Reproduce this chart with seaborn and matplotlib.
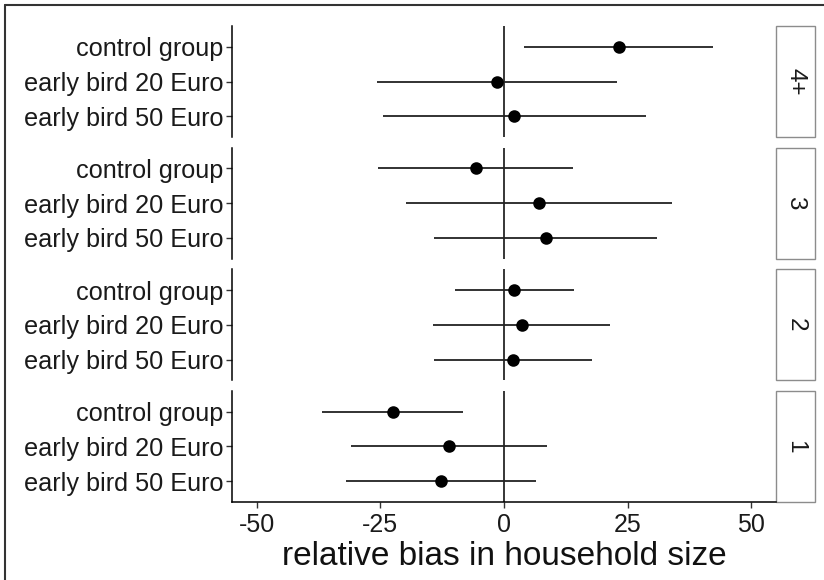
import matplotlib
matplotlib.use("Agg")
import matplotlib.pyplot as plt
import seaborn as sns
import numpy as np
import pandas as pd
from matplotlib.patches import Rectangle
from matplotlib.lines import Line2D

# data
groups = ["control group", "early bird 20 Euro", "early bird 50 Euro"]
facets = ["4+", "3", "2", "1"]
est = [[23.2, -1.4, 2.1],
       [-5.6, 7.1, 8.4],
       [2.1, 3.7, 1.9],
       [-22.4, -11.1, -12.8]]
lower = [[4.1, -25.6, -24.4],
         [-25.4, -19.8, -14.2],
         [-10.0, -14.3, -14.2],
         [-36.8, -30.9, -31.9]]
upper = [[42.3, 22.9, 28.7],
         [14.0, 34.0, 31.0],
         [14.2, 21.5, 17.7],
         [-8.2, 8.7, 6.5]]

rows = []
for i, f in enumerate(facets):
    for j, g in enumerate(groups):
        rows.append(dict(size=f, group=g, est=est[i][j], lo=lower[i][j], hi=upper[i][j]))
df = pd.DataFrame(rows)

sns.set_style("white")
plt.rcParams["font.family"] = ["Liberation Sans", "DejaVu Sans"]
plt.rcParams["axes.unicode_minus"] = False

W, H = 824, 580
fig, axes = plt.subplots(4, 1, figsize=(W / 100, H / 100), dpi=100, sharex=True)
plt.subplots_adjust(left=232 / W, right=776 / W, top=1 - 26 / H, bottom=1 - 502 / H, hspace=0.096)

strip_w = 39 / 544
for ax, f in zip(axes, facets):
    sub = df[df["size"] == f]
    ax.axvline(0, color="black", lw=1.1, zorder=1)
    ax.hlines(y=[groups.index(g) for g in sub["group"]], xmin=sub["lo"], xmax=sub["hi"],
              color="#222222", lw=1.3, zorder=2)
    sns.pointplot(data=sub, x="est", y="group", order=groups, orient="h", ax=ax,
                  linestyle="none", color="black", markersize=7, errorbar=None, zorder=3)
    ax.set_ylim(2.6, -0.6)
    ax.set_xlim(-55, 55)
    ax.set_xlabel("")
    ax.set_ylabel("")
    for s in ["top", "right", "bottom"]:
        ax.spines[s].set_visible(False)
    ax.spines["left"].set_color("black")
    ax.spines["left"].set_linewidth(1.1)
    ax.tick_params(axis="y", left=True, length=4, width=1, color="#333333", labelsize=18.2,
                   labelcolor="#1a1a1a", pad=2)
    ax.tick_params(axis="x", bottom=False, labelbottom=False)
    # strip on the right
    ax.add_patch(Rectangle((1.0, 0.0), strip_w, 1.0, transform=ax.transAxes, clip_on=False,
                           facecolor="white", edgecolor="#8c8c8c", lw=1.0))
    ax.text(1.0 + strip_w / 2, 0.5, f, transform=ax.transAxes, rotation=-90,
            ha="center", va="center", fontsize=17.5, color="#1a1a1a")

bax = axes[-1]
bax.spines["bottom"].set_visible(True)
bax.spines["bottom"].set_color("black")
bax.spines["bottom"].set_linewidth(1.1)
bax.set_xticks([-50, -25, 0, 25, 50])
bax.tick_params(axis="x", bottom=True, labelbottom=True, length=4, width=1, color="#333333",
                labelsize=18, labelcolor="#1a1a1a", pad=4)
bax.set_xlabel("relative bias in household size", fontsize=24, color="#111111", labelpad=3)

# figure frame (left and top edges visible)
fig.add_artist(Line2D([5 / W, 5 / W], [0, 1 - 5 / H], color="#333333", lw=1.5))
fig.add_artist(Line2D([5 / W, 1], [1 - 5 / H, 1 - 5 / H], color="#333333", lw=1.5))

fig.savefig("out.png", dpi=100)
